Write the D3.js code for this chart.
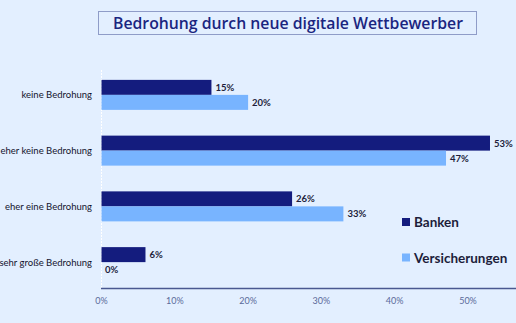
<!DOCTYPE html>
<html><head><meta charset="utf-8">
<script src="https://cdn.jsdelivr.net/npm/d3@7"></script>
<style>
html,body{margin:0;padding:0;background:#e3efff;}
svg{display:block;}
</style></head>
<body>
<svg id="chart" width="516" height="323"></svg>
<script>
const categories = ["keine Bedrohung","eher keine Bedrohung","eher eine Bedrohung","sehr große Bedrohung"];
const seriesNames = ["Banken","Versicherungen"];
const banken = [15,53,26,6];
const versicherungen = [20,47,33,0];
const tickValues = [0,10,20,30,40,50];
const title = "Bedrohung durch neue digitale Wettbewerber";
const colors = ["#141c7e","#78b4ff"];

const svg = d3.select("#chart");
const font = "Lato, 'Open Sans', sans-serif";
svg.append("rect").attr("width",516).attr("height",323).attr("fill","#e3efff");

// title box
svg.append("rect").attr("x",98.5).attr("y",11.5).attr("width",378).attr("height",23)
  .attr("fill","none").attr("stroke","#3a4890").attr("stroke-dasharray","1,1");
const tt = svg.append("text").attr("x",288).attr("y",29).attr("text-anchor","middle")
  .attr("font-family","'Open Sans', sans-serif").attr("font-size",16.5).attr("font-weight",600).attr("fill","#1a2580").text(title);
const tw = tt.node().getComputedTextLength();
if (tw > 352) tt.attr("textLength",350).attr("lengthAdjust","spacingAndGlyphs");

const x = d3.scaleLinear().domain([0,10]).range([101,174.3]);
const y = d3.scaleBand().domain(categories).range([67,290]);
const inner = d3.scaleBand().domain(seriesNames).range([0,30]);
const pad = (y.bandwidth()-30)/2;

// vertical line
svg.append("line").attr("x1",101.5).attr("x2",101.5).attr("y1",70).attr("y2",288)
  .attr("stroke","#ffffff").attr("stroke-width",1).attr("stroke-dasharray","2,1");

const data = [banken, versicherungen];
data.forEach((vals,si)=>{
  const g = svg.append("g");
  g.selectAll("rect").data(categories).join("rect")
    .attr("x",x(0)+0.5)
    .attr("y",(c)=>y(c)+pad+inner(seriesNames[si]))
    .attr("width",(c,i)=>Math.max(0,x(vals[i])-x(0)))
    .attr("height",inner.bandwidth())
    .attr("fill",colors[si]);
  g.selectAll("text").data(categories).join("text")
    .attr("x",(c,i)=>x(vals[i])+ (vals[i]===0?4:4.5))
    .attr("y",(c)=>y(c)+pad+inner(seriesNames[si])+inner.bandwidth()/2+3.5)
    .attr("font-family",font).attr("font-size",9.5).attr("font-weight",700)
    .attr("fill","#1d1d3a").text((c,i)=>vals[i]+"%");
});

// category labels
svg.append("g").selectAll("text").data(categories).join("text")
  .attr("x",92).attr("y",c=>y(c)+y.bandwidth()/2+3.5).attr("text-anchor","end")
  .attr("font-family",font).attr("font-size",9.5).attr("fill","#14142e").text(c=>c);

// axis
const axis = svg.append("g").attr("transform","translate(0,288)")
  .call(d3.axisBottom(x).tickValues(tickValues).tickSize(0).tickFormat(d=>d+"%"));
axis.select(".domain").attr("d","M101,0.5H516").attr("stroke","#4a5890").attr("stroke-width",1.5);
axis.selectAll("text").attr("dy",0).attr("y",16).attr("font-family",font).attr("font-size",9).attr("fill","#5a6a9a");

// legend
const lg = svg.append("g");
seriesNames.forEach((s,i)=>{
  lg.append("rect").attr("x",402).attr("y",218+i*35.5).attr("width",8).attr("height",8).attr("fill",colors[i]);
  lg.append("text").attr("x",414).attr("y",227+i*35.5).attr("font-family",font).attr("font-size",13.5)
    .attr("font-weight",700).attr("fill","#1d1d3a").text(s);
});
</script>
</body></html>
